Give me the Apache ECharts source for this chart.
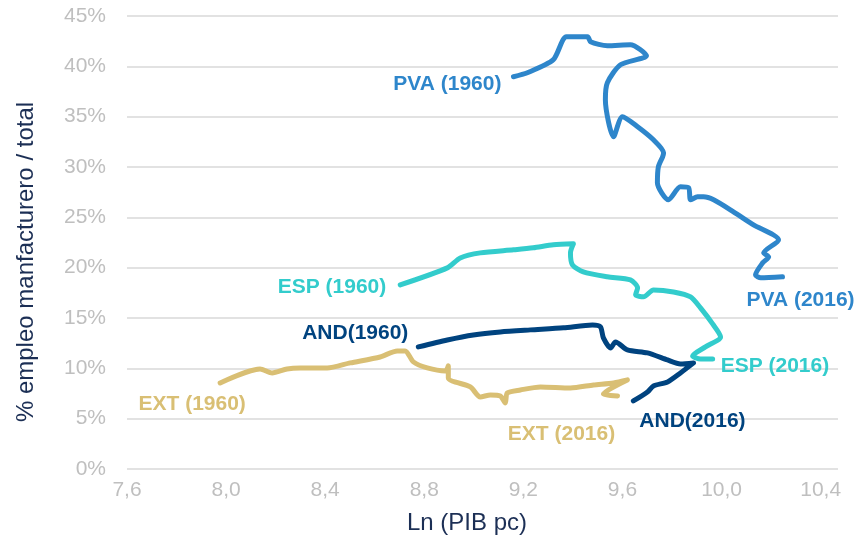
<!DOCTYPE html>
<html>
<head>
<meta charset="utf-8">
<script src="https://cdn.jsdelivr.net/npm/echarts@6/dist/echarts.min.js"></script>
<style>
  html, body { margin: 0; padding: 0; background: #ffffff; }
  #chart { width: 860px; height: 548px; }
</style>
</head>
<body>
<div id="chart"></div>
<script>
// Trayectorias: Ln(PIB per cápita) frente a % de empleo manufacturero sobre el total, 1960-2016
const xTicks = [7.6, 8.0, 8.4, 8.8, 9.2, 9.6, 10.0, 10.4];
const yTicks = [0, 5, 10, 15, 20, 25, 30, 35, 40, 45];

const pvaX = [9.160, 9.216, 9.321, 9.374, 9.459, 9.471, 9.539, 9.632, 9.697, 9.592, 9.539, 9.531, 9.564, 9.600, 9.661, 9.725, 9.766, 9.762, 9.745, 9.741, 9.786, 9.834, 9.867, 9.875, 9.903, 9.927, 9.968, 10.048, 10.129, 10.230, 10.170, 10.190, 10.166, 10.137, 10.158, 10.246];
const pvaY = [38.97, 39.36, 40.66, 42.94, 42.94, 42.45, 42.05, 42.15, 41.05, 40.16, 38.37, 36.68, 33.00, 34.99, 34.00, 32.70, 31.41, 31.01, 30.02, 28.43, 26.74, 28.03, 27.93, 26.74, 27.04, 27.04, 26.74, 25.55, 24.25, 22.76, 21.47, 21.07, 20.48, 19.28, 18.99, 19.09];

const espX = [8.703, 8.893, 8.945, 9.026, 9.160, 9.240, 9.321, 9.402, 9.390, 9.398, 9.442, 9.539, 9.632, 9.661, 9.653, 9.685, 9.725, 9.806, 9.875, 9.915, 9.964, 9.996, 9.935, 9.883, 9.915, 9.964];
const espY = [18.29, 19.98, 20.97, 21.47, 21.77, 21.97, 22.27, 22.37, 21.47, 20.28, 19.58, 19.09, 18.79, 17.99, 17.30, 17.10, 17.79, 17.59, 17.10, 16.00, 14.41, 13.12, 12.13, 11.23, 10.93, 10.93];

const andX = [8.776, 8.893, 8.998, 9.107, 9.228, 9.362, 9.479, 9.511, 9.523, 9.552, 9.572, 9.620, 9.701, 9.782, 9.834, 9.887, 9.834, 9.782, 9.725, 9.701, 9.644];
const andY = [12.13, 12.82, 13.32, 13.62, 13.82, 14.02, 14.31, 14.12, 13.02, 12.03, 12.62, 11.83, 11.53, 10.83, 10.44, 10.54, 9.54, 8.65, 8.25, 7.65, 6.76];

const extX = [7.976, 8.137, 8.186, 8.246, 8.299, 8.408, 8.501, 8.622, 8.691, 8.723, 8.756, 8.812, 8.885, 8.897, 8.897, 8.986, 9.026, 9.067, 9.107, 9.127, 9.135, 9.188, 9.269, 9.390, 9.483, 9.564, 9.620, 9.523, 9.580];
const extY = [8.55, 9.94, 9.54, 9.94, 10.04, 10.04, 10.54, 11.13, 11.73, 11.73, 10.64, 10.04, 9.74, 10.24, 9.04, 8.15, 7.16, 7.36, 7.26, 6.56, 7.55, 7.85, 8.15, 8.05, 8.35, 8.55, 8.85, 7.46, 7.26];

const seriesNames = ['PVA', 'ESP', 'AND', 'EXT'];
const startLabels = ['PVA (1960)', 'ESP (1960)', 'AND(1960)', 'EXT (1960)'];
const endLabels = ['PVA (2016)', 'ESP (2016)', 'AND(2016)', 'EXT (2016)'];

const colors = ['#2e86cb', '#33cccc', '#00437f', '#d9bf74'];
const labelFont = { fontFamily: 'Liberation Sans, Arial, sans-serif', fontSize: 21, fontWeight: 'bold' };

// label placement around the first / last point of each trajectory
const startPlace = [
  { align: 'right', offset: [-12, 8] },
  { align: 'right', offset: [-14, 2] },
  { align: 'right', offset: [-10, -14] },
  { align: 'center', offset: [-28, 21] }
];
const endPlace = [
  { align: 'center', offset: [18, 23] },
  { align: 'left', offset: [8, 7] },
  { align: 'left', offset: [6, 20] },
  { align: 'center', offset: [-56, 38] }
];

const xs = [pvaX, espX, andX, extX];
const ys = [pvaY, espY, andY, extY];

function pairs(a, b) { return a.map((v, i) => [v, b[i]]); }

const series = seriesNames.map((name, k) => {
  const pts = pairs(xs[k], ys[k]);
  const mk = (coord, text, place) => ({
    coord: coord,
    symbol: 'circle',
    symbolSize: 0,
    label: Object.assign({
      show: true,
      position: 'inside',
      formatter: text,
      color: colors[k],
      verticalAlign: 'middle',
      align: place.align,
      offset: place.offset
    }, labelFont)
  });
  return {
    name: name,
    type: 'line',
    data: pts,
    showSymbol: false,
    smooth: 0.25,
    z: 10 - k,
    lineStyle: { color: colors[k], width: 5, cap: 'round', join: 'round' },
    itemStyle: { color: colors[k] },
    markPoint: {
      silent: true,
      animation: false,
      data: [mk(pts[0], startLabels[k], startPlace[k]), mk(pts[pts.length - 1], endLabels[k], endPlace[k])]
    }
  };
});

const tickFont = { fontFamily: 'Liberation Sans, Arial, sans-serif', fontSize: 21, color: '#bfbfbf' };

const chart = echarts.init(document.getElementById('chart'), null, { renderer: 'canvas' });
chart.setOption({
  animation: false,
  backgroundColor: '#ffffff',
  grid: { left: 127, right: 22, top: 16, bottom: 79 },
  xAxis: {
    type: 'value',
    min: xTicks[0],
    max: 10.47,
    interval: 0.4,
    axisLine: { show: false },
    axisTick: { show: false },
    splitLine: { show: false },
    axisLabel: Object.assign({
      margin: 11,
      showMaxLabel: false,
      formatter: v => {
        const hit = xTicks.find(t => Math.abs(t - v) < 1e-6);
        return hit === undefined ? '' : hit.toFixed(1).replace('.', ',');
      }
    }, tickFont)
  },
  yAxis: {
    type: 'value',
    min: yTicks[0],
    max: yTicks[yTicks.length - 1],
    interval: 5,
    axisLine: { show: false },
    axisTick: { show: false },
    splitLine: { show: true, lineStyle: { color: '#d9d9d9', width: 1.5 } },
    axisLabel: Object.assign({ margin: 21, formatter: '{value}%' }, tickFont)
  },
  graphic: [
    {
      type: 'text',
      x: 467, y: 523,
      style: {
        text: 'Ln (PIB pc)',
        fontFamily: 'Liberation Sans, Arial, sans-serif',
        fontSize: 24,
        fill: '#1c2f55',
        align: 'center',
        verticalAlign: 'middle'
      }
    },
    {
      type: 'text',
      x: 26, y: 262,
      rotation: Math.PI / 2,
      style: {
        text: '% empleo manfacturero / total',
        fontFamily: 'Liberation Sans, Arial, sans-serif',
        fontSize: 24,
        fill: '#1c2f55',
        align: 'center',
        verticalAlign: 'middle'
      }
    }
  ],
  series: series
});
</script>
</body>
</html>
